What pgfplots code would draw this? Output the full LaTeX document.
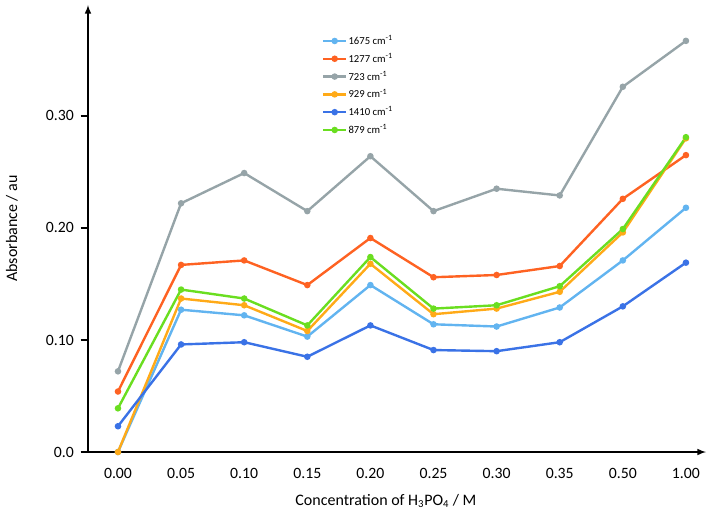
\documentclass[border=0pt]{standalone}
\usepackage{fontspec}
\setmainfont{Carlito}
\usepackage{pgfplots}
\pgfplotsset{compat=1.18}
\definecolor{cA}{RGB}{98,180,240}
\definecolor{cB}{RGB}{254,98,34}
\definecolor{cC}{RGB}{150,164,168}
\definecolor{cD}{RGB}{255,170,24}
\definecolor{cE}{RGB}{58,114,230}
\definecolor{cF}{RGB}{106,222,32}
\begin{document}
\begin{tikzpicture}
\begin{axis}[
  name=ax,
  scale only axis,
  width=463.5pt, height=335.25pt,
  xmin=-0.475, xmax=9.318, ymin=0, ymax=0.399,
  axis lines=left,
  axis line style={line width=1.2pt, -latex},
  /pgf/number format/assume math mode=true,
  xtick={0,1,2,3,4,5,6,7,8,9},
  xticklabels={0.00,0.05,0.10,0.15,0.20,0.25,0.30,0.35,0.50,1.00},
  ytick={0,0.1,0.2,0.3},
  yticklabels={0.0,0.10,0.20,0.30},
  x tick style={draw=none},
  y tick style={line width=1pt, black},
  major tick length=5.5pt,
  tick align=outside,
  tick label style={font=\fontsize{11.8}{13}\selectfont, inner sep=0pt},
  xticklabel style={anchor=base, yshift=-14pt},
  yticklabel style={anchor=east, xshift=-5pt},
  xlabel={Concentration of H\textsubscript{3}PO\textsubscript{4} / M},
  ylabel={Absorbance / au},
  label style={font=\fontsize{12}{13}\selectfont},
  xlabel style={at={(axis description cs:0.482,-0.1186)}, anchor=base},
  ylabel style={at={(axis description cs:-0.123,0.5)}, anchor=center},
  legend style={at={(axis description cs:0.372,0.946)}, anchor=north west,
    draw=none, fill=none, font=\fontsize{8}{9}\selectfont,
    row sep=0pt, nodes={inner sep=1pt, minimum height=13.35pt}},
  legend cell align=left,
  legend image code/.code={\draw[mark repeat=2,mark phase=2,#1] plot coordinates {(0pt,0pt) (8.5pt,0pt) (17pt,0pt)};},
  every axis plot/.append style={line width=1.8pt, mark=*, mark size=1.5pt},
  clip=false,
]
\addplot[cA, mark options={fill=cA}] coordinates {(0,0) (1,0.127) (2,0.122) (3,0.103) (4,0.149) (5,0.114) (6,0.112) (7,0.129) (8,0.171) (9,0.218)};
\addlegendentry{1675 cm\textsuperscript{-1}}
\addplot[cB, mark options={fill=cB}] coordinates {(0,0.054) (1,0.167) (2,0.171) (3,0.149) (4,0.191) (5,0.156) (6,0.158) (7,0.166) (8,0.226) (9,0.265)};
\addlegendentry{1277 cm\textsuperscript{-1}}
\addplot[cC, mark options={fill=cC}] coordinates {(0,0.072) (1,0.222) (2,0.249) (3,0.215) (4,0.264) (5,0.215) (6,0.235) (7,0.229) (8,0.326) (9,0.367)};
\addlegendentry{723 cm\textsuperscript{-1}}
\addplot[cD, mark options={fill=cD}] coordinates {(0,0) (1,0.137) (2,0.131) (3,0.108) (4,0.168) (5,0.123) (6,0.128) (7,0.143) (8,0.196) (9,0.280)};
\addlegendentry{929 cm\textsuperscript{-1}}
\addplot[cE, mark options={fill=cE}] coordinates {(0,0.023) (1,0.096) (2,0.098) (3,0.085) (4,0.113) (5,0.091) (6,0.090) (7,0.098) (8,0.130) (9,0.169)};
\addlegendentry{1410 cm\textsuperscript{-1}}
\addplot[cF, mark options={fill=cF}] coordinates {(0,0.039) (1,0.145) (2,0.137) (3,0.113) (4,0.174) (5,0.128) (6,0.131) (7,0.148) (8,0.199) (9,0.281)};
\addlegendentry{879 cm\textsuperscript{-1}}
\coordinate (bl) at (rel axis cs:0,0);
\end{axis}
\pgfresetboundingbox
\path[use as bounding box] ([shift={(-66pt,-49.5pt)}]bl) rectangle ([shift={(465.75pt,339pt)}]bl);
\end{tikzpicture}
\end{document}
